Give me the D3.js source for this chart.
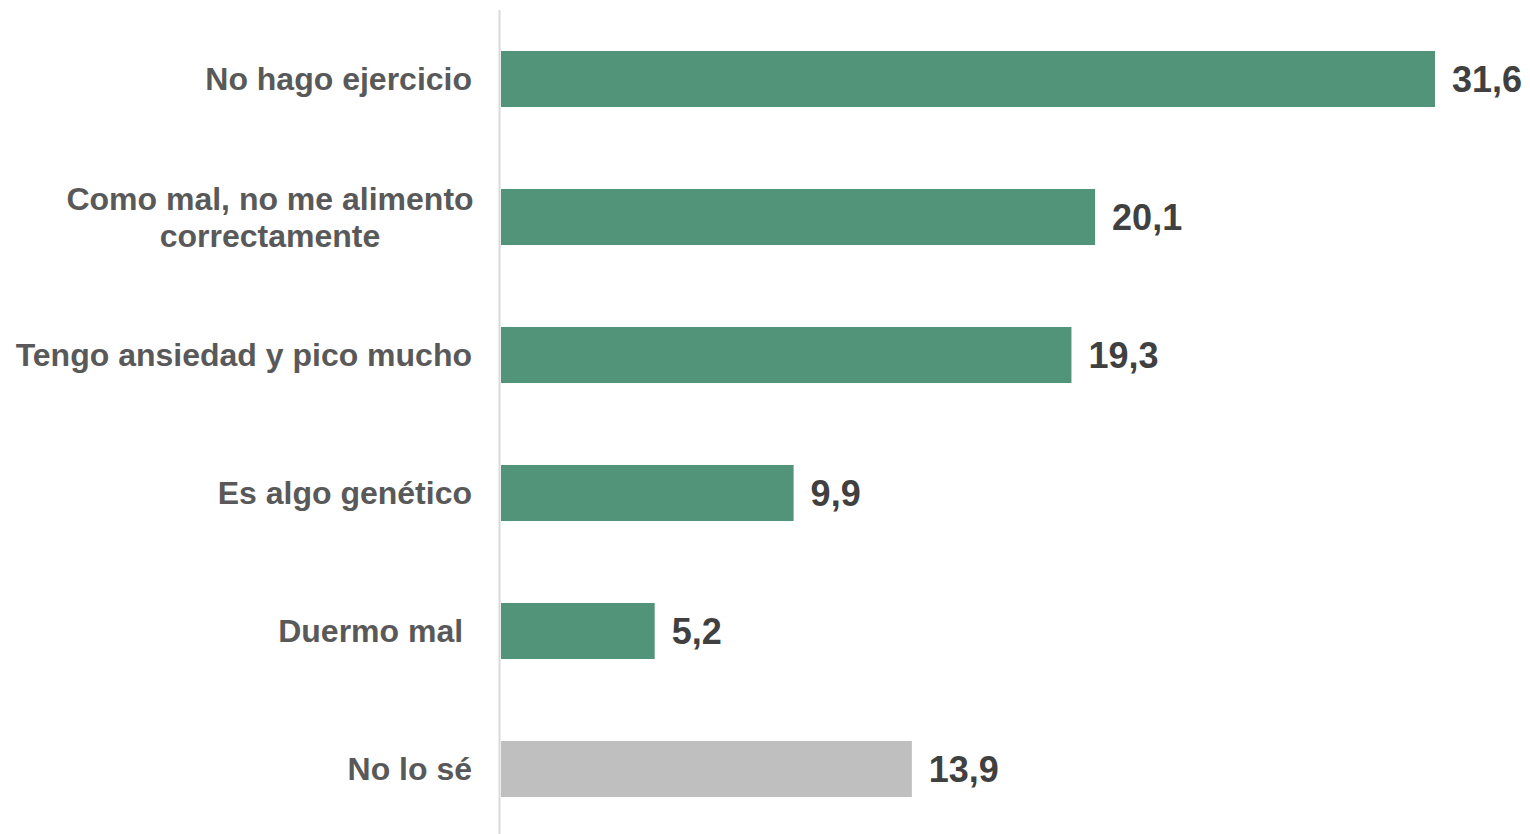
<!DOCTYPE html>
<html><head><meta charset="utf-8">
<script src="https://cdn.jsdelivr.net/npm/d3@7"></script>
<style>html,body{margin:0;padding:0;background:#fff;}svg{display:block;}</style>
</head><body>
<svg id="chart" width="1530" height="834"></svg>
<script>
const categories = ["No hago ejercicio", "Como mal, no me alimento correctamente", "Tengo ansiedad y pico mucho", "Es algo genético", "Duermo mal ", "No lo sé"];
const labelLines = [["No hago ejercicio"], ["Como mal, no me alimento", "correctamente"], ["Tengo ansiedad y pico mucho"], ["Es algo genético"], ["Duermo mal "], ["No lo sé"]];
const values = [31.6, 20.1, 19.3, 9.9, 5.2, 13.9];
const valueLabels = ["31,6", "20,1", "19,3", "9,9", "5,2", "13,9"];
const barColors = ["#529479", "#529479", "#529479", "#529479", "#529479", "#bfbfbf"];

const svg = d3.select("#chart");
const x = d3.scaleLinear().domain([0, 31.6]).range([501, 1435]);
const y = d3.scaleBand().domain(categories).range([10, 838]).paddingInner(0.594).paddingOuter(0.297);

svg.selectAll("rect.bar").data(categories).enter().append("rect")
  .attr("class", "bar")
  .attr("x", x(0))
  .attr("y", d => y(d))
  .attr("width", (d, i) => x(values[i]) - x(0))
  .attr("height", y.bandwidth())
  .attr("fill", (d, i) => barColors[i]);

svg.append("line").attr("x1", 499.5).attr("x2", 499.5).attr("y1", 10).attr("y2", 834)
  .attr("stroke", "#d9d9d9").attr("stroke-width", 2);

const font = "'Liberation Sans', Arial, Helvetica, sans-serif";
const lh = 37;
svg.selectAll("text.cat").data(categories).enter().append("text")
  .attr("class", "cat")
  .attr("font-family", font).attr("font-weight", "bold").attr("font-size", 32)
  .attr("fill", "#595959")
  .style("white-space", "pre")
  .each(function(d, i) {
    const lines = labelLines[i];
    const cy = y(d) + y.bandwidth() / 2;
    const t = d3.select(this);
    const n = lines.length;
    lines.forEach((ln, j) => {
      t.append("tspan")
        .attr("x", lines.length > 1 ? 270 : 472)
        .attr("text-anchor", lines.length > 1 ? "middle" : "end")
        .attr("y", cy + (j - (n - 1) / 2) * lh)
        .attr("dy", "0.35em")
        .text(ln);
    });
  });

svg.selectAll("text.val").data(categories).enter().append("text")
  .attr("class", "val")
  .attr("font-family", font).attr("font-weight", "bold").attr("font-size", 36)
  .attr("fill", "#404040")
  .attr("x", (d, i) => x(values[i]) + 17)
  .attr("y", d => y(d) + y.bandwidth() / 2)
  .attr("dy", "0.35em")
  .text((d, i) => valueLabels[i]);
</script>
</body></html>
